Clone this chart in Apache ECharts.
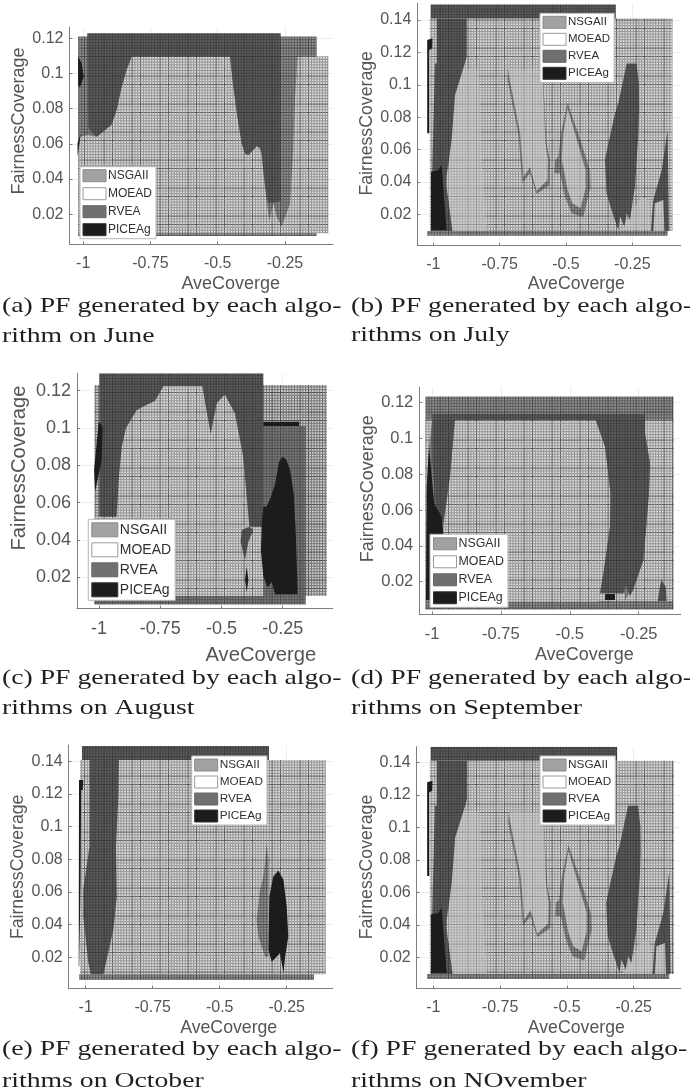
<!DOCTYPE html>
<html><head><meta charset="utf-8">
<style>html,body{margin:0;padding:0;background:#fff}#c{width:690px;height:1092px;filter:blur(0.45px)}</style>
<script src="https://cdn.jsdelivr.net/npm/echarts@6/dist/echarts.min.js"></script>
</head><body><div id="c"></div>
<script>
const algorithms = ['NSGAII','MOEAD','RVEA','PICEAg'];
const xTicks = [-1,-0.75,-0.5,-0.25];
const yTicksShort = [0.02,0.04,0.06,0.08,0.1,0.12];
const yTicksTall = [0.02,0.04,0.06,0.08,0.1,0.12,0.14];
const xAxisTitle = 'AveCoverge';
const yAxisTitle = 'FairnessCoverage';
const captions = [
 ['(a) PF generated by each algo-','rithm on June'],
 ['(b) PF generated by each algo-','rithms on July'],
 ['(c) PF generated by each algo-','rithms on August'],
 ['(d) PF generated by each algo-','rithms on September'],
 ['(e) PF generated by each algo-','rithms on October'],
 ['(f) PF generated by each algo-','rithms on NOvember']
];

// Outlines of each algorithm's front, as [AveCoverge, FairnessCoverage] vertices
const juneNsgaii = [[[-1.019,.0077],[-.132,.0077],[-.132,.121],[-1.019,.121]]];
const juneMoead = [[[-1.012,.0641],[-.981,.0651],[-.95,.0641],[-.926,.067],[-.895,.0708],[-.876,.0793],[-.857,.0925],[-.839,.102],[-.82,.1096],[-.454,.1096],[-.442,.0925],[-.427,.0755],[-.411,.0603],[-.399,.0547],[-.386,.0537],[-.374,.0556],[-.355,.0588],[-.343,.0575],[-.337,.0547],[-.324,.0357],[-.318,.0263],[-.308,.0168],[-.293,.0263],[-.281,.0187],[-.262,.013],[-.231,.0263],[-.219,.0566],[-.213,.085],[-.203,.1096],[-.089,.1096],[-.089,.0092],[-1.019,.0092],[-1.019,.0528]]];
const juneRvea = [[[-.985,.1228],[-.266,.1228],[-.266,.0272],[-.312,.0263],[-.324,.0357],[-.337,.0547],[-.343,.0575],[-.355,.0588],[-.374,.0556],[-.386,.0537],[-.399,.0547],[-.411,.0603],[-.427,.0755],[-.442,.0925],[-.454,.1096],[-.82,.1096],[-.839,.102],[-.857,.0925],[-.876,.0793],[-.895,.0708],[-.926,.067],[-.95,.0641],[-.981,.0689]]];
const junePiceag = [[[-1.019,.1096],[-1.006,.1058],[-.998,.0982],[-1.012,.0922],[-1.019,.0935]],[[-1.009,.066],[-1.021,.0528],[-1.021,.0603]]];

const julyMoead = [[[-1.013,.0097],[-.099,.0097],[-.099,.141],[-1.013,.141]]];
const julyNsgaii = [[[-1.023,.0067],[-.117,.0067],[-.117,.0097],[-1.023,.0097]],[[-.494,.0889],[-.454,.07],[-.41,.0474],[-.407,.0371],[-.435,.0181],[-.479,.0206],[-.504,.0309],[-.523,.0453],[-.544,.0453],[-.541,.0535],[-.529,.0556],[-.519,.07]],[[-.717,.1097],[-.588,.1097],[-.573,.0638],[-.56,.0535],[-.562,.038],[-.611,.0325],[-.636,.0453],[-.664,.0395],[-.68,.07],[-.72,.103]]];
const julyMoeadInner = [[[-.912,.1097],[-.827,.1097],[-.815,.0494],[-.799,.0097],[-.928,.0097],[-.95,.0371],[-.931,.07]],[[-.717,.1097],[-.588,.1097],[-.578,.065],[-.568,.053],[-.57,.041],[-.611,.0345],[-.636,.049],[-.66,.043],[-.673,.07],[-.712,.103]],[[-.494,.0854],[-.466,.07],[-.426,.0474],[-.426,.036],[-.445,.0237],[-.476,.0268],[-.494,.035],[-.51,.0494],[-.516,.0535],[-.51,.07]],[[-.215,.0309],[-.19,.0288],[-.177,.0103],[-.29,.0103],[-.24,.0247]],[[-.165,.03],[-.13,.05],[-.112,.0097],[-.171,.0097]]];
const julyRvea = [[[-1.01,.141],[-.312,.141],[-.312,.1495],[-1.01,.1495]],[[-.987,.141],[-.874,.141],[-.874,.1174],[-.883,.1122],[-.918,.0937],[-.931,.0659],[-.95,.0433],[-.95,.0371],[-.928,.0097],[-1.009,.0097],[-1.004,.0474],[-1,.0741],[-.994,.1132],[-.987,.1132]],[[-.271,.1132],[-.234,.1132],[-.225,.1009],[-.224,.085],[-.227,.07],[-.24,.0371],[-.259,.0165],[-.271,.0206],[-.28,.0124],[-.296,.0186],[-.303,.0103],[-.328,.0227],[-.347,.033],[-.353,.0535],[-.34,.0638],[-.315,.0824],[-.303,.0885]],[[-.117,.0721],[-.112,.0097],[-.129,.0097],[-.133,.0288],[-.165,.0268],[-.171,.0097],[-.18,.0097],[-.171,.0288],[-.139,.0474]]];
const julyPiceag = [[[-1.009,.0463],[-.981,.0474],[-.969,.0505],[-.95,.0103],[-1.009,.0103]],[[-1.023,.1277],[-1.003,.1287],[-1.004,.1225],[-1.015,.1215],[-1.015,.07],[-1.023,.07]]];

const augustNsgaii = [[[-1.019,.01],[-.07,.01],[-.07,.123],[-1.019,.123]]];
const augustMoead = [[[-.928,.0525],[-.918,.075],[-.907,.09],[-.89,.1],[-.846,.1096],[-.805,.1125],[-.771,.1146],[-.737,.1225],[-.578,.1225],[-.544,.0968],[-.52,.1132],[-.486,.118],[-.445,.1079],[-.411,.0846],[-.386,.0471],[-.329,.0471],[-.329,.01],[-1.019,.01],[-1.019,.0525]]];
const augustRvea = [[[-.999,.1293],[-.329,.1293],[-.329,.0471],[-.386,.0471],[-.411,.0846],[-.445,.1079],[-.486,.118],[-.52,.1132],[-.544,.0968],[-.578,.1225],[-.737,.1225],[-.771,.1146],[-.805,.1125],[-.846,.1096],[-.89,.1],[-.907,.09],[-.918,.075],[-.928,.0525],[-.999,.0525]],[[-.417,.0454],[-.386,.0471],[-.37,.0454],[-.39,.0391],[-.404,.0293],[-.422,.0391]]];
const augustRveaBlock = [[[-.329,.1011],[-.156,.1011],[-.156,.01],[-.329,.01]],[[-1.019,.0055],[-.156,.0055],[-.156,.01],[-1.019,.01]]];
const augustPiceag = [[[-.25,.0846],[-.235,.083],[-.22,.0775],[-.205,.065],[-.197,.045],[-.193,.0293],[-.189,.0109],[-.281,.0109],[-.295,.0177],[-.311,.0145],[-.329,.0204],[-.339,.0346],[-.335,.05],[-.329,.0579],[-.315,.058],[-.3,.0625],[-.281,.07],[-.265,.082]],[[-.329,.1034],[-.183,.1034],[-.183,.1011],[-.329,.1011]],[[-1.001,.1034],[-.985,.1007],[-.989,.0829],[-1.016,.0659],[-1.02,.0775]],[[-.397,.0257],[-.39,.0186],[-.397,.0123],[-.404,.0186]]];

const septemberNsgaii = [[[-1.024,.0045],[-.124,.0045],[-.124,.1234],[-1.024,.1234]]];
const septemberMoead = [[[-.917,.1103],[-.406,.1103],[-.372,.0954],[-.352,.0693],[-.354,.0507],[-.378,.0247],[-.397,.0088],[-.965,.0088],[-.959,.0507],[-.935,.0787]],[[-.227,.1103],[-.124,.1103],[-.124,.0092],[-.3,.0092],[-.251,.0247],[-.233,.0321],[-.213,.0693],[-.209,.0861],[-.227,.1029]],[[-1.024,.1103],[-.999,.1103],[-1.011,.0954],[-1.019,.0731],[-1.02,.0098],[-1.024,.0098]],[[-.4,.0135],[-.3,.0135],[-.3,.0092],[-.4,.0092]]];
const septemberRvea = [[[-.999,.1137],[-.227,.1137],[-.227,.1029],[-.209,.0861],[-.213,.0693],[-.233,.0321],[-.27,.0153],[-.282,.012],[-.297,.0181],[-.306,.0135],[-.39,.0135],[-.378,.0247],[-.354,.0507],[-.352,.0693],[-.372,.0954],[-.406,.1103],[-.917,.1103],[-.935,.0787],[-.959,.0526],[-.989,.0638],[-.999,.088]],[[-.167,.0209],[-.152,.0172],[-.149,.0092],[-.181,.0092],[-.173,.0172]]];
const septemberPiceag = [[[-1.011,.0954],[-.992,.0638],[-.965,.0563],[-.959,.047],[-1.007,.0098],[-1.022,.0098],[-1.019,.0731]],[[-.372,.0131],[-.336,.0131],[-.336,.0098],[-.372,.0098]]];

const octoberMoead = [[[-1.021,.0096],[-.104,.0096],[-.104,.1408],[-1.021,.1408]]];
const octoberNsgaii = [[[-1.024,.0061],[-.148,.0061],[-.148,.0096],[-1.024,.0096]],[[-.325,.0898],[-.318,.0796],[-.318,.0204],[-.331,.0204],[-.356,.0327],[-.362,.0429],[-.35,.0612],[-.337,.0694],[-.331,.0776]]];
const octoberRvea = [[[-1.014,.1408],[-.316,.1408],[-.316,.1494],[-1.014,.1494]],[[-.986,.1408],[-.876,.1408],[-.878,.1184],[-.887,.0878],[-.884,.0571],[-.897,.0367],[-.922,.0184],[-.934,.0096],[-.981,.0096],[-.99,.0163],[-1.009,.0449],[-1.009,.0612],[-.986,.0878]]];
const octoberPiceag = [[[-.281,.0731],[-.262,.0673],[-.25,.051],[-.244,.0327],[-.256,.0204],[-.262,.0102],[-.275,.0224],[-.306,.0173],[-.318,.0245],[-.315,.0571],[-.3,.0694]],[[-1.025,.1286],[-1.009,.1286],[-1.011,.1224],[-1.017,.1224],[-1.019,.0694],[-1.024,.0143],[-1.026,.0143]]];

// November's fronts read the same as July's at this resolution
const novemberMoead = julyMoead, novemberNsgaii = julyNsgaii, novemberMoeadInner = julyMoeadInner, novemberRvea = julyRvea, novemberPiceag = julyPiceag;

// mesh textures: fine lines with a heavier one now and then
function mesh(base, line, heavy, period, n){
  const s = Math.round(period*n), c = document.createElement('canvas');
  c.width = s; c.height = s;
  const g = c.getContext('2d');
  g.fillStyle = base; g.fillRect(0,0,s,s);
  g.lineWidth = 1;
  for(let i=0;i<n;i++){const p=i*period+0.5;
    g.strokeStyle = i%7===0 ? heavy : line;
    g.beginPath();g.moveTo(p,0);g.lineTo(p,s);g.stroke();
    g.beginPath();g.moveTo(0,p);g.lineTo(s,p);g.stroke();}
  return {image:c,repeat:'repeat'};
}
const tones = {
  dark: mesh('#5e5e5e','#444444','#3a3a3a',2.8,10),
  slate: mesh('#7c7c7c','#565656','#444444',2.8,10),
  mid: mesh('#949494','#5c5c5c','#444444',2.8,10),
  grid: mesh('#d0d0d0','#747474','#484848',2.8,10),
  light: mesh('#dcdcdc','#949494','#5a5a5a',2.8,10),
  pale: mesh('#d2d2d2','#aaaaaa','#909090',2.8,10),
  black: '#1c1c1e'
};
const swatches = {
  NSGAII:{color:'#a2a2a2',borderColor:'#8a8a8a',borderWidth:1},
  MOEAD:{color:'#ffffff',borderColor:'#9a9a9a',borderWidth:1},
  RVEA:{color:'#707070',borderColor:'#666',borderWidth:1},
  PICEAg:{color:'#1c1c1e',borderColor:'#333',borderWidth:1}
};

const panels = [
 {g:[69.5,27,263.5,217.5], x:[-1.051,-.0714], y:[.00284,.1264], yt:yTicksShort, fs:16, tf:18, xd:[29.5,30.5], yd:[14.75,41.5], lg:[80,166.7,12,23,5,2.5],
  layers:[['NSGAII',juneNsgaii,'mid'],['MOEAD',juneMoead,'light'],['RVEA',juneRvea,'dark'],['PICEAg',junePiceag,'black']], cap:[2,306.5,336.5]},
 {g:[417.3,3,263.4,242.7], x:[-1.0603,-.0676], y:[.0006,.1505], yt:yTicksTall, fs:16, tf:17.7, xd:[27.3,29], yd:[1,40], lg:[540,13.3,11.5,23,4,2.5],
  layers:[['MOEAD',julyMoead,'light'],['NSGAII',julyNsgaii,'mid'],['MOEAD',julyMoeadInner,'pale'],['RVEA',julyRvea,'dark'],['PICEAg',julyPiceag,'black']], cap:[351,306.5,335.5]},
 {g:[77,373.3,255.7,235.4], x:[-1.0898,-.0458], y:[.0032,.1293], yt:yTicksShort, fs:18, tf:20.2, xd:[56,36.3], yd:[23,48], lg:[88.3,519.3,14,26,5,3],
  layers:[['NSGAII',augustNsgaii,'grid'],['MOEAD',augustMoead,'light'],['RVEA',augustRveaBlock,'slate'],['RVEA',augustRvea,'dark'],['PICEAg',augustPiceag,'black']], cap:[2,678.5,708.5]},
 {g:[419.3,387.3,261.4,227.4], x:[-1.0461,-.0976], y:[.00156,.1286], yt:yTicksShort, fs:16.5, tf:18, xd:[34.3,31], yd:[12.3,42.6], lg:[430,534.3,12.4,23,5,3],
  layers:[['NSGAII',septemberNsgaii,'mid'],['MOEAD',septemberMoead,'light'],['RVEA',septemberRvea,'dark'],['PICEAg',septemberPiceag,'black']], cap:[351,678.5,708.5]},
 {g:[68.7,745,264,243.7], x:[-1.0634,-.0784], y:[.00077,.14998], yt:yTicksTall, fs:16, tf:17.7, xd:[28,30], yd:[0,41.4], lg:[191.7,756,11.8,23,4,2.5],
  layers:[['MOEAD',octoberMoead,'light'],['NSGAII',octoberNsgaii,'mid'],['RVEA',octoberRvea,'dark'],['PICEAg',octoberPiceag,'black']], cap:[2,1049.5,1081]},
 {g:[416.7,746.7,264,242], x:[-1.0621,-.0741], y:[.00068,.1496], yt:yTicksTall, fs:16, tf:17.7, xd:[27.6,30], yd:[.7,41], lg:[540,756,11.8,23,4,2.5],
  layers:[['MOEAD',novemberMoead,'light'],['NSGAII',novemberNsgaii,'mid'],['MOEAD',novemberMoeadInner,'pale'],['RVEA',novemberRvea,'dark'],['PICEAg',novemberPiceag,'black']], cap:[351,1049.5,1081]}
];

const option = {animation:false,backgroundColor:'#fff',grid:[],xAxis:[],yAxis:[],series:[],legend:[],graphic:{elements:[]}};
const axisColor = '#7f7f7f', labelColor = '#555';
panels.forEach((p,i)=>{
  option.grid.push({left:p.g[0],top:p.g[1],width:p.g[2],height:p.g[3],containLabel:false});
  option.xAxis.push({type:'value',gridIndex:i,min:p.x[0],max:p.x[1],name:xAxisTitle,nameLocation:'middle',nameGap:p.xd[1],
    nameTextStyle:{fontFamily:'Liberation Sans',fontSize:p.tf,color:labelColor,padding:[0,0,0,2*p.xd[0]]},
    axisLine:{onZero:false,lineStyle:{color:axisColor,width:1}},
    axisTick:{inside:true,length:3,customValues:xTicks,lineStyle:{color:axisColor}},
    axisLabel:{customValues:xTicks,fontFamily:'Liberation Sans',fontSize:p.fs,color:labelColor,margin:11},
    splitLine:{show:true,lineStyle:{color:'#eeeeee',width:1}}});
  option.yAxis.push({type:'value',gridIndex:i,min:p.y[0],max:p.y[1],name:yAxisTitle,nameLocation:'middle',nameGap:p.yd[1],
    nameTextStyle:{fontFamily:'Liberation Sans',fontSize:p.tf,color:labelColor,padding:[0,0,0,2*p.yd[0]]},
    axisLine:{onZero:false,lineStyle:{color:axisColor,width:1}},
    axisTick:{inside:true,length:3,customValues:p.yt,lineStyle:{color:axisColor}},
    axisLabel:{customValues:p.yt,fontFamily:'Liberation Sans',fontSize:p.fs,color:labelColor,margin:6},
    splitLine:{show:true,lineStyle:{color:'#eeeeee',width:1}}});
  p.layers.forEach(([name,polys,tone],k)=>{
    option.series.push({type:'custom',name,xAxisIndex:i,yAxisIndex:i,clip:true,silent:true,z:2+k,
      itemStyle:{color:swatches[name].color},
      data:polys.map((v,n)=>[v[0][0],v[0][1],n]),
      encode:{x:0,y:1},
      renderItem:(params,api)=>({type:'polygon',shape:{points:polys[params.dataIndex].map(pt=>api.coord(pt))},style:{fill:tones[tone]}})
    });
  });
  const [lx,ly,lf,lw,lgap,lpad] = p.lg;
  option.legend.push({orient:'vertical',left:lx,top:ly,padding:[lpad,4,lpad,lpad],itemWidth:lw,itemHeight:Math.round(lf),itemGap:lgap,
    backgroundColor:'#ffffff',borderColor:'#b8b8b8',borderWidth:1,borderRadius:0,selectedMode:false,z:20,
    textStyle:{fontFamily:'Liberation Sans',fontSize:lf,color:'#303030',padding:[0,0,0,-3]},
    data:algorithms.map(a=>({name:a,icon:'rect',itemStyle:swatches[a]}))});
  captions[i].forEach((t,j)=>{
    option.graphic.elements.push({type:'text',x:p.cap[0],y:p.cap[j+1],scaleX:1.26,scaleY:1,z:30,
      style:{text:t,font:'22px "Liberation Serif"',fill:'#1f1f1f',verticalAlign:'middle'}});
  });
});
echarts.init(document.getElementById('c'),null,{renderer:'canvas'}).setOption(option);
</script></body></html>
